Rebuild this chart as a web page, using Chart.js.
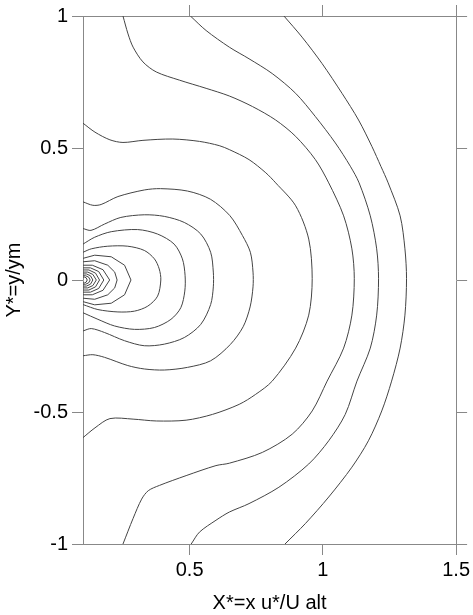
<!DOCTYPE html>
<html>
<head>
<meta charset="utf-8">
<title>Contours</title>
<script src="https://cdn.jsdelivr.net/npm/chart.js@4.4.1/dist/chart.umd.min.js"></script>
<style>
  html, body { margin: 0; padding: 0; background: #fff; }
  #contourChart { display: block; }
</style>
</head>
<body>
<canvas id="contourChart" width="473" height="615"></canvas>
<script>
// axis ticks
const xTicks = [0.5, 1, 1.5];
const yTicks = [-1, -0.5, 0, 0.5, 1];

// contour lines, [x*, y*], outermost first
const c1 = [[0.854,1],[0.922,0.920],[0.997,0.820],[1.072,0.707],[1.134,0.606],[1.184,0.506],[1.218,0.430],[1.245,0.368],[1.290,0.243],[1.308,0.118],[1.314,0.005],[1.308,-0.133],[1.290,-0.258],[1.258,-0.383],[1.221,-0.496],[1.171,-0.609],[1.109,-0.709],[1.022,-0.822],[0.935,-0.922],[0.858,-1]];
const c2 = [[0.503,1],[0.562,0.945],[0.649,0.882],[0.723,0.838],[0.810,0.782],[0.898,0.707],[0.972,0.619],[1.047,0.519],[1.103,0.431],[1.136,0.368],[1.178,0.243],[1.202,0.118],[1.209,0.005],[1.202,-0.133],[1.178,-0.258],[1.128,-0.383],[1.084,-0.509],[1.022,-0.609],[0.947,-0.697],[0.835,-0.785],[0.723,-0.847],[0.649,-0.879],[0.599,-0.910],[0.537,-0.955],[0.506,-1]];
const c3 = [[0.250,1],[0.269,0.932],[0.288,0.882],[0.325,0.826],[0.375,0.788],[0.462,0.757],[0.562,0.726],[0.649,0.697],[0.736,0.657],[0.823,0.606],[0.898,0.544],[0.972,0.456],[1.022,0.368],[1.078,0.243],[1.109,0.118],[1.118,0.005],[1.109,-0.133],[1.078,-0.258],[1.016,-0.383],[0.960,-0.496],[0.885,-0.584],[0.773,-0.653],[0.649,-0.694],[0.599,-0.703],[0.487,-0.741],[0.387,-0.778],[0.345,-0.798],[0.320,-0.830],[0.288,-0.903],[0.250,-1]];
const c4 = [[0.100,0.594],[0.145,0.560],[0.201,0.531],[0.250,0.521],[0.325,0.529],[0.437,0.534],[0.537,0.525],[0.611,0.509],[0.649,0.494],[0.723,0.456],[0.786,0.406],[0.823,0.368],[0.898,0.281],[0.947,0.155],[0.960,0.005],[0.947,-0.133],[0.898,-0.258],[0.810,-0.383],[0.748,-0.433],[0.686,-0.471],[0.586,-0.509],[0.487,-0.531],[0.375,-0.534],[0.288,-0.527],[0.201,-0.525],[0.145,-0.560],[0.100,-0.597]];
const c5 = [[0.100,0.296],[0.137,0.283],[0.168,0.286],[0.231,0.316],[0.330,0.341],[0.391,0.346],[0.492,0.337],[0.578,0.306],[0.651,0.244],[0.698,0.169],[0.728,0.105],[0.738,0.030],[0.738,-0.026],[0.727,-0.102],[0.701,-0.177],[0.653,-0.244],[0.579,-0.306],[0.492,-0.331],[0.405,-0.341],[0.330,-0.337],[0.268,-0.324],[0.181,-0.293],[0.137,-0.283],[0.100,-0.287]];
const c6 = [[0.100,0.195],[0.130,0.188],[0.181,0.212],[0.242,0.237],[0.330,0.247],[0.405,0.241],[0.480,0.218],[0.542,0.174],[0.579,0.105],[0.589,0.030],[0.589,-0.026],[0.579,-0.093],[0.542,-0.168],[0.480,-0.218],[0.405,-0.243],[0.330,-0.249],[0.256,-0.230],[0.181,-0.199],[0.131,-0.184],[0.100,-0.193]];
const c7 = [[0.100,0.136],[0.144,0.162],[0.206,0.183],[0.305,0.191],[0.380,0.174],[0.442,0.136],[0.473,0.080],[0.483,0.018],[0.482,-0.042],[0.467,-0.105],[0.430,-0.149],[0.368,-0.180],[0.293,-0.187],[0.218,-0.174],[0.156,-0.149],[0.100,-0.124]];
const c8 = [[0.100,0.105],[0.131,0.118],[0.193,0.128],[0.268,0.128],[0.330,0.112],[0.368,0.080],[0.386,0.042],[0.392,0],[0.380,-0.061],[0.343,-0.099],[0.293,-0.118],[0.231,-0.121],[0.156,-0.112],[0.100,-0.093]];
const c9 = [[0.100,0.082],[0.144,0.094],[0.206,0.088],[0.256,0.056],[0.280,0],[0.256,-0.056],[0.206,-0.088],[0.144,-0.094],[0.100,-0.082]];
const c10 = [[0.100,0.069],[0.144,0.073],[0.193,0.056],[0.219,0.030],[0.228,0],[0.219,-0.030],[0.193,-0.056],[0.144,-0.073],[0.100,-0.069]];
const c11 = [[0.100,0.056],[0.135,0.056],[0.175,0.039],[0.200,0],[0.175,-0.039],[0.135,-0.056],[0.100,-0.056]];
const c12 = [[0.100,0.046],[0.128,0.046],[0.159,0.032],[0.178,0],[0.159,-0.032],[0.128,-0.046],[0.100,-0.046]];
const c13 = [[0.100,0.038],[0.122,0.038],[0.147,0.026],[0.162,0],[0.147,-0.026],[0.122,-0.038],[0.100,-0.038]];
const c14 = [[0.100,0.030],[0.118,0.030],[0.137,0.021],[0.150,0],[0.137,-0.021],[0.118,-0.030],[0.100,-0.030]];
const c15 = [[0.100,0.023],[0.113,0.023],[0.128,0.016],[0.137,0],[0.128,-0.016],[0.113,-0.023],[0.100,-0.023]];
const c16 = [[0.100,0.016],[0.110,0.016],[0.121,0.011],[0.127,0],[0.121,-0.011],[0.110,-0.016],[0.100,-0.016]];
const c17 = [[0.100,0.011],[0.106,0.011],[0.112,0.008],[0.116,0],[0.112,-0.008],[0.106,-0.011],[0.100,-0.011]];

const smoothLines = [c1, c2, c3, c4, c5, c6, c7, c8];
const coreLines = [c9, c10, c11, c12, c13, c14, c15, c16, c17];

const lineColor = "#444444";
const axisColor = "#888888";
const font = { family: "'Liberation Sans', Arial, sans-serif", size: 20 };

function toDataset(pts, tension) {
  return {
    data: pts.map(p => ({ x: p[0], y: p[1] })),
    showLine: true,
    borderColor: lineColor,
    borderWidth: 1,
    pointRadius: 0,
    tension: tension,
    fill: false
  };
}

const datasets = smoothLines.map(c => toDataset(c, 0.3))
  .concat(coreLines.map(c => toDataset(c, 0)));

function axisGrid() {
  return { drawOnChartArea: false, drawTicks: true, tickLength: 11, color: axisColor, lineWidth: 1 };
}
const axisBorder = { display: true, color: axisColor, width: 1 };

new Chart(document.getElementById("contourChart").getContext("2d"), {
  type: "scatter",
  data: { datasets: datasets },
  options: {
    responsive: false,
    devicePixelRatio: 1,
    animation: false,
    layout: { padding: 0 },
    plugins: { legend: { display: false }, tooltip: { enabled: false } },
    scales: {
      x: {
        type: "linear", position: "bottom", min: 0.1, max: 1.5,
        afterBuildTicks: a => { a.ticks = xTicks.map(v => ({ value: v })); },
        afterFit: a => { a.height = 71; },
        ticks: { font: font, color: "#000", padding: 3, maxRotation: 0, autoSkip: false, callback: v => String(v) },
        grid: axisGrid(), border: axisBorder,
        title: { display: true, text: "X*=x u*/U alt", font: font, color: "#000", padding: { top: 0, bottom: 0 } }
      },
      xTop: {
        axis: "x", type: "linear", position: "top", min: 0.1, max: 1.5,
        afterBuildTicks: a => { a.ticks = xTicks.map(v => ({ value: v })); },
        afterFit: a => { a.height = 12; },
        ticks: { display: false },
        grid: axisGrid(), border: axisBorder
      },
      y: {
        type: "linear", position: "left", min: -1, max: 1,
        afterBuildTicks: a => { a.ticks = yTicks.map(v => ({ value: v })); },
        afterFit: a => { a.width = 83; },
        ticks: { font: font, color: "#000", padding: 4, autoSkip: false, callback: v => String(v) },
        grid: axisGrid(), border: axisBorder,
        title: { display: true, text: "Y*=y/ym", font: font, color: "#000", padding: { top: 2, bottom: 0 } }
      },
      yRight: {
        axis: "y", type: "linear", position: "right", min: -1, max: 1,
        afterBuildTicks: a => { a.ticks = yTicks.map(v => ({ value: v })); },
        afterFit: a => { a.width = 15; },
        ticks: { display: false },
        grid: axisGrid(), border: axisBorder
      }
    }
  }
});
</script>
</body>
</html>
